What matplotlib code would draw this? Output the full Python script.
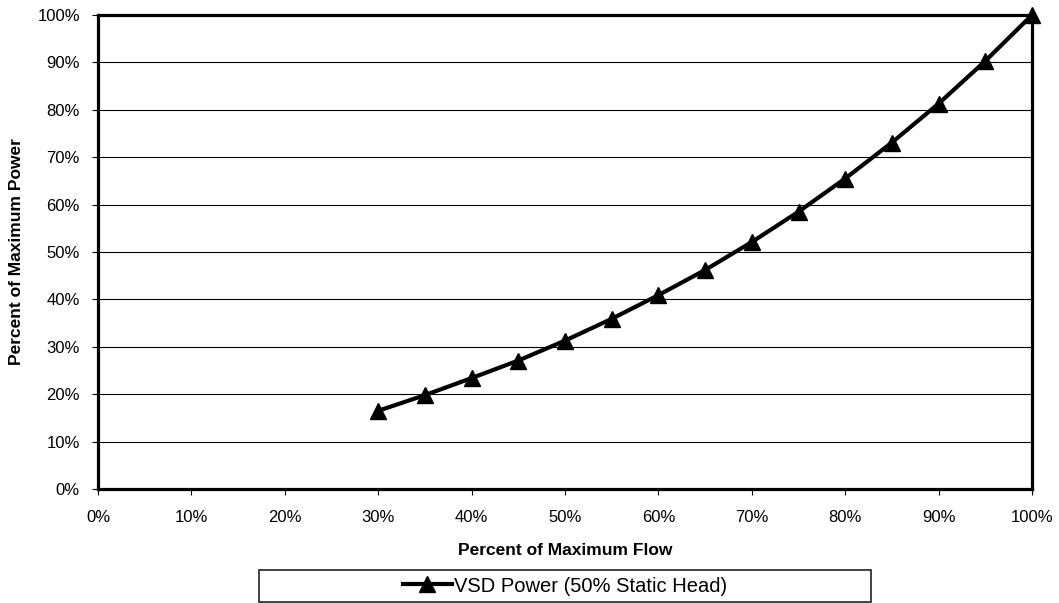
import matplotlib
matplotlib.use("Agg")
import matplotlib.pyplot as plt
from matplotlib.patches import Rectangle
from matplotlib.ticker import PercentFormatter, MultipleLocator

plt.rcParams['font.family'] = ['Liberation Sans', 'DejaVu Sans']

# flow (% of max) vs power (% of max) for a VSD pump with 50% static head
flow = [30, 35, 40, 45, 50, 55, 60, 65, 70, 75, 80, 85, 90, 95, 100]
power = [16.5, 19.8, 23.4, 27.1, 31.3, 35.9, 40.9, 46.2, 52.1, 58.5, 65.5, 73.1, 81.3, 90.3, 100.0]

W, H = 1059, 603
fig = plt.figure(figsize=(W / 100, H / 100), dpi=100)
ax = fig.add_axes([98 / W, 1 - 489 / H, 934 / W, 474 / H])

ax.plot(flow, power, color='black', linewidth=3, marker='^', markersize=11,
        label='VSD Power (50% Static Head)', zorder=3, clip_on=False)

ax.set_xlim(0, 100)
ax.set_ylim(0, 100)
ax.xaxis.set_major_locator(MultipleLocator(10))
ax.yaxis.set_major_locator(MultipleLocator(10))
ax.xaxis.set_major_formatter(PercentFormatter(decimals=0))
ax.yaxis.set_major_formatter(PercentFormatter(decimals=0))
ax.tick_params(direction='out', length=4, width=0.8, labelsize=12)
ax.tick_params(axis='y', pad=9)
ax.tick_params(axis='x', pad=11)

ax.grid(axis='y', color='black', linewidth=0.8)
for s in ax.spines.values():
    s.set_linewidth(2.3)

ax.set_xlabel('Percent of Maximum Flow', fontsize=12.5, fontweight='bold')
ax.set_ylabel('Percent of Maximum Power', fontsize=12.5, fontweight='bold')
ax.xaxis.set_label_coords(0.5, (489 - 543) / 474)
ax.yaxis.set_label_coords((24 - 98) / 934, 0.5)

# legend sits in its own wide box under the x label
fig.patches.append(Rectangle((259 / W, 1 - 602 / H), 612 / W, 32 / H,
                             transform=fig.transFigure, fill=False,
                             edgecolor='#222222', linewidth=1.2))
fig.legend(loc='center', bbox_to_anchor=(565 / W, 1 - 586 / H), frameon=False,
           fontsize=14.5, handlelength=2.4, handletextpad=0.1, borderpad=0)

fig.savefig('out.png', dpi=100)
